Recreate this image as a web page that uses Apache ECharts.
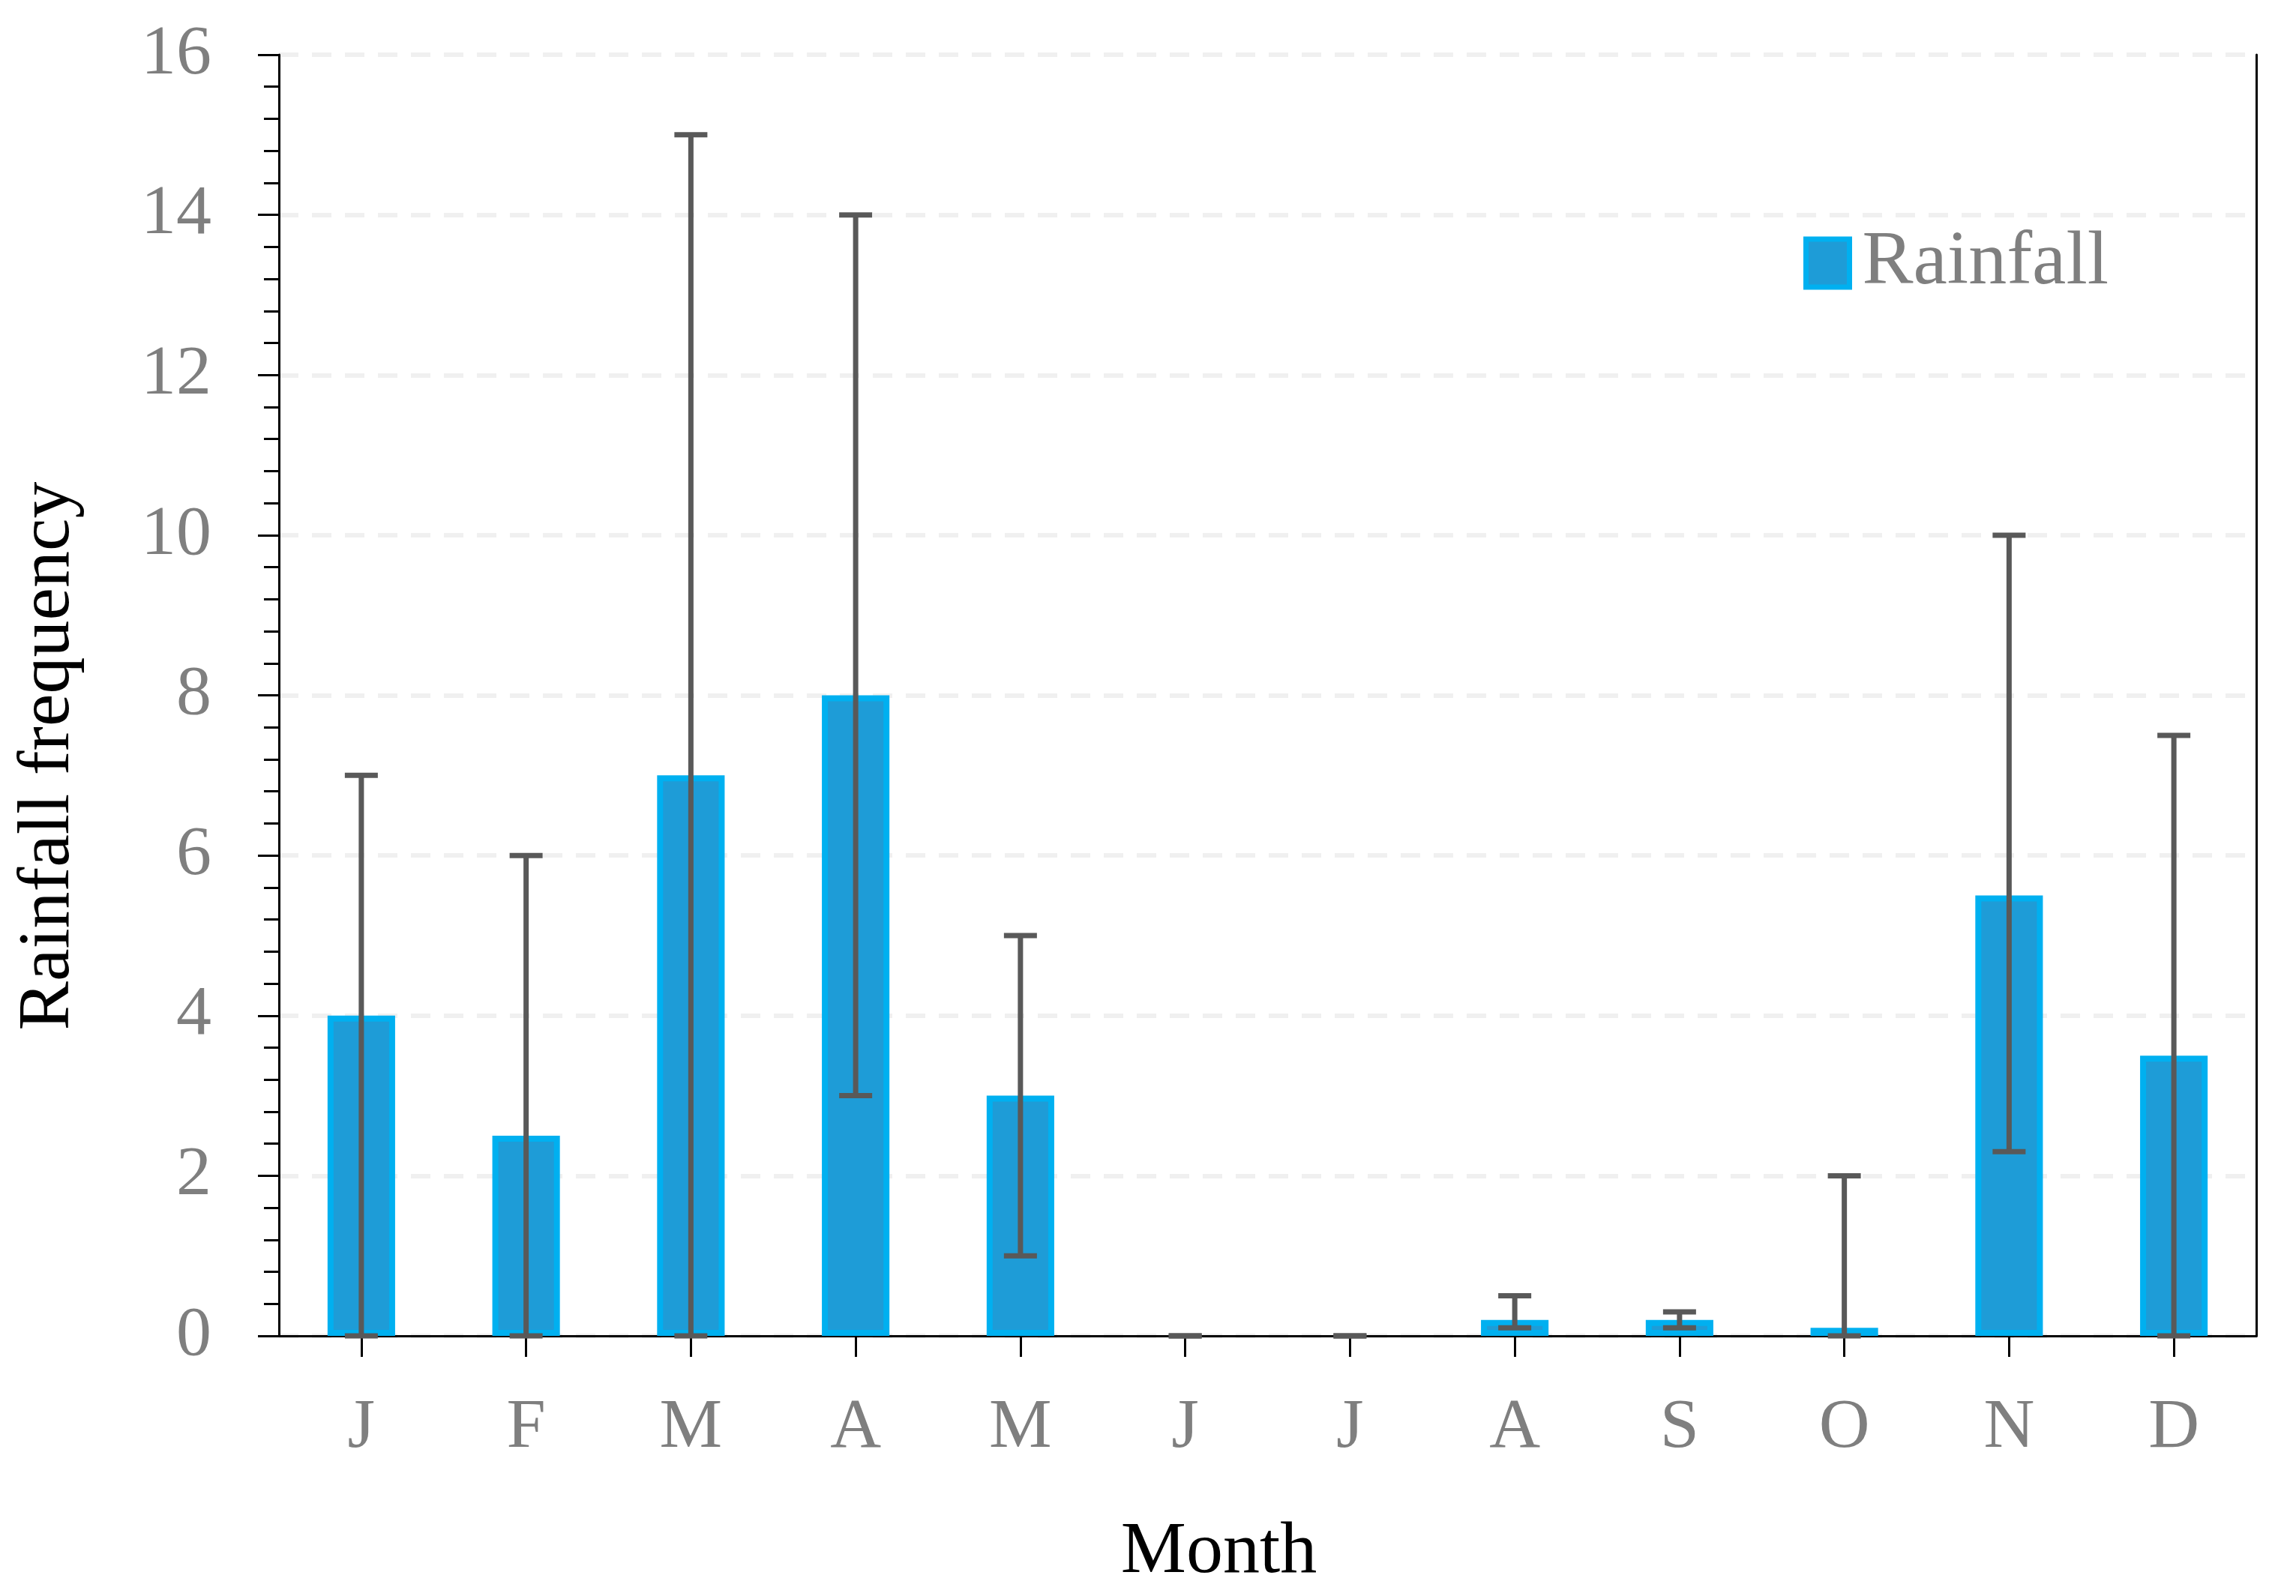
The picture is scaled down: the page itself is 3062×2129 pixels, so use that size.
<!DOCTYPE html>
<html>
<head>
<meta charset="utf-8">
<script src="https://cdn.jsdelivr.net/npm/echarts@6/dist/echarts.min.js"></script>
<style>html,body{margin:0;padding:0;background:#fff;}#c{width:3062px;height:2129px;}</style>
</head>
<body>
<div id="c"></div>
<script>
var months = ['J','F','M','A','M','J','J','A','S','O','N','D'];
var rainfall = [4, 2.5, 7, 8, 3, 0, 0, 0.2, 0.2, 0.1, 5.5, 3.5];
var errLow  = [0, 0, 0, 3, 1, 0, 0, 0.1, 0.1, 0, 2.3, 0];
var errHigh = [7, 6, 15, 14, 5, 0, 0, 0.5, 0.3, 2, 10, 7.5];
var yTicks = [0, 2, 4, 6, 8, 10, 12, 14, 16];

var chart = echarts.init(document.getElementById('c'));
var font = 'Liberation Serif, Times New Roman, serif';
var errData = months.map(function(m, i){ return [i, errLow[i], errHigh[i]]; });
var barData = rainfall.map(function(v){ return v === 0 ? {value: 0, itemStyle: {borderWidth: 0}} : v; });

chart.setOption({
  animation: false,
  backgroundColor: '#fff',
  grid: {left: 372, right: 53, top: 73, bottom: 347, containLabel: false},
  legend: {
    data: ['Rainfall'], left: 2400, top: 295, icon: 'rect', itemWidth: 58, itemHeight: 64, itemGap: 10,
    itemStyle: {color: '#1E9CD7', borderColor: '#00B0F0', borderWidth: 7},
    textStyle: {fontFamily: font, fontSize: 102, color: '#7F7F7F', padding: [0,0,0,12]}
  },
  xAxis: [{
    type: 'category', data: months, position: 'bottom',
    axisLine: {show: true, lineStyle: {color: '#000', width: 3}},
    axisTick: {show: true, alignWithLabel: true, length: 28, lineStyle: {color: '#000', width: 3}},
    axisLabel: {fontFamily: font, fontSize: 94, color: '#7F7F7F', margin: 76},
    name: 'Month', nameLocation: 'middle', nameGap: 240,
    nameTextStyle: {fontFamily: font, fontSize: 98, color: '#000', padding: [0, 130, 0, 0]},
    splitLine: {show: false}
  }, {
    type: 'category', data: months, position: 'top',
    axisLine: {show: true, lineStyle: {color: '#000', width: 3}},
    axisTick: {show: false}, axisLabel: {show: false}, splitLine: {show: false}
  }],
  yAxis: [{
    type: 'value', min: yTicks[0], max: yTicks[yTicks.length-1], interval: 2,
    axisLine: {show: true, lineStyle: {color: '#000', width: 3}},
    axisTick: {show: true, inside: false, length: 28, lineStyle: {color: '#000', width: 3}},
    minorTick: {show: true, splitNumber: 5, length: 20, lineStyle: {color: '#000', width: 3}},
    axisLabel: {fontFamily: font, fontSize: 94, color: '#7F7F7F', margin: 90},
    splitLine: {show: true, lineStyle: {color: '#F0F0F0', width: 6, type: [26, 18]}},
    name: 'Rainfall frequency', nameLocation: 'middle', nameGap: 258,
    nameTextStyle: {fontFamily: font, fontSize: 98, color: '#000', padding: [0, 162, 0, 0]}
  }, {
    type: 'value', min: 0, max: 16, interval: 2, position: 'right',
    axisLine: {show: true, lineStyle: {color: '#000', width: 3}},
    axisTick: {show: false}, axisLabel: {show: false}, splitLine: {show: false}
  }],
  series: [{
    name: 'Rainfall', type: 'bar', data: barData, barWidth: '41%',
    itemStyle: {color: '#1E9CD7', borderColor: '#00B0F0', borderWidth: 8}
  }, {
    name: 'err', type: 'custom', data: errData, z: 10,
    renderItem: function(params, api){
      var x = api.value(0);
      var lo = api.coord([x, api.value(1)]);
      var hi = api.coord([x, api.value(2)]);
      var hw = 22;
      var st = {stroke: '#595959', lineWidth: 7};
      return {type: 'group', children: [
        {type: 'line', shape: {x1: lo[0], y1: lo[1], x2: hi[0], y2: hi[1]}, style: st},
        {type: 'line', shape: {x1: lo[0]-hw, y1: lo[1], x2: lo[0]+hw, y2: lo[1]}, style: st},
        {type: 'line', shape: {x1: hi[0]-hw, y1: hi[1], x2: hi[0]+hw, y2: hi[1]}, style: st}
      ]};
    }
  }]
});
</script>
</body>
</html>
